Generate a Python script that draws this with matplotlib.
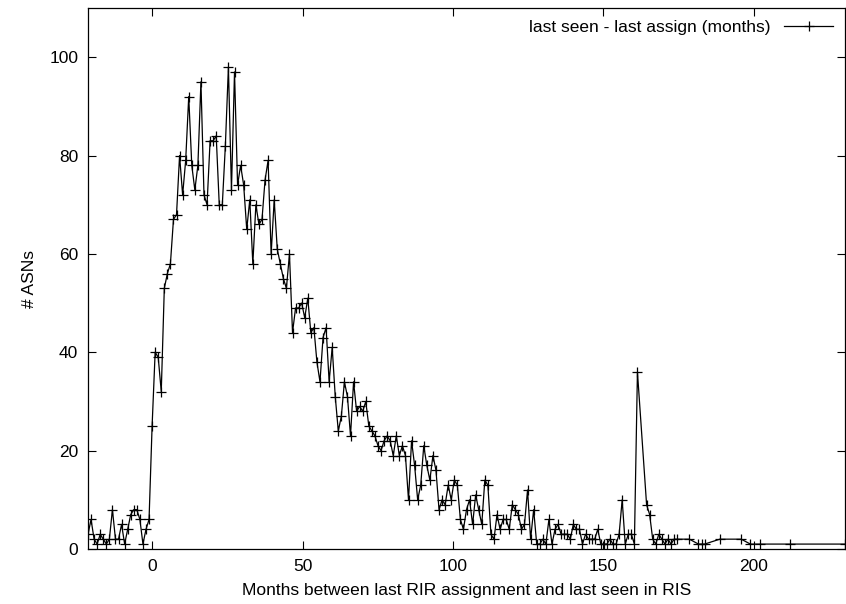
import matplotlib
matplotlib.use('Agg')
import matplotlib.pyplot as plt

plt.rcParams['font.family'] = ['Liberation Sans', 'DejaVu Sans']

# bin index (one bin = one average month of 30.44 days)
bins = list(range(-21, 160)) + [162, 163, 164, 165, 166, 167, 168, 169, 170, 171, 172,
                               176, 179, 180, 181, 186, 193, 196, 199, 209, 227]

# number of ASNs per bin
asns = [
    3, 6, 2, 1, 3, 2, 1, 2, 8, 2, 2, 5, 1, 4, 7, 8, 8, 6, 1, 4, 6,  # -21 .. -1
    25, 40, 39, 32, 53, 56, 58, 67, 68, 80,
    72, 79, 92, 78, 73, 78, 95, 72, 70, 83,
    83, 84, 70, 70, 82, 98, 73, 97, 74, 78,
    74, 65, 71, 58, 70, 66, 67, 75, 79, 60,
    71, 61, 58, 55, 53, 60, 44, 49, 49, 50,
    47, 51, 44, 45, 38, 34, 43, 45, 34, 41,
    31, 24, 27, 34, 31, 23, 34, 28, 29, 28,
    30, 25, 24, 23, 21, 20, 22, 23, 22, 19,
    23, 19, 21, 19, 10, 22, 17, 10, 13, 21,
    17, 14, 19, 16, 8, 10, 9, 13, 10, 14,
    13, 6, 4, 8, 10, 5, 11, 8, 5, 14,
    13, 3, 2, 7, 4, 6, 6, 4, 9, 8,
    7, 4, 5, 12, 2, 8, 1, 1, 2, 1,
    6, 1, 4, 5, 3, 3, 3, 2, 5, 4,
    4, 1, 3, 2, 2, 2, 4, 1, 1, 1,
    2, 1, 1, 3, 10, 1, 3, 3, 1, 36,
    9, 7, 2, 1, 3, 2, 1, 2, 1, 2, 2,
    2, 1, 1, 1, 2, 2, 1, 1, 1, 1,
]

# convert to months of 30 days
months = [b * 30.44 / 30 for b in bins]

fig = plt.figure(figsize=(8.46, 6.04), dpi=100)
ax = fig.add_axes([88 / 846, 1 - 549 / 604, 757 / 846, 541 / 604])

ax.plot(months, asns, color='black', linewidth=0.9, marker='+', markersize=7,
        markeredgewidth=0.9, label='last seen - last assign (months)')

ax.set_xlim(min(months), max(months))
ax.set_ylim(0, 110)
ax.set_xticks([0, 50, 100, 150, 200])
ax.set_yticks([0, 20, 40, 60, 80, 100])
ax.tick_params(direction='in', length=6, width=0.8, top=True, right=True,
               labelsize=12.5, pad=7)
for s in ax.spines.values():
    s.set_linewidth(0.9)

ax.set_xlabel('Months between last RIR assignment and last seen in RIS', fontsize=12.5,
              labelpad=7)
ax.set_ylabel('# ASNs', fontsize=12.5, labelpad=9)

ax.legend(loc='upper right', frameon=False, markerfirst=False, fontsize=12.5,
          handlelength=2.8, handletextpad=0.8, borderaxespad=0.3)

fig.savefig('out.png', dpi=100)
